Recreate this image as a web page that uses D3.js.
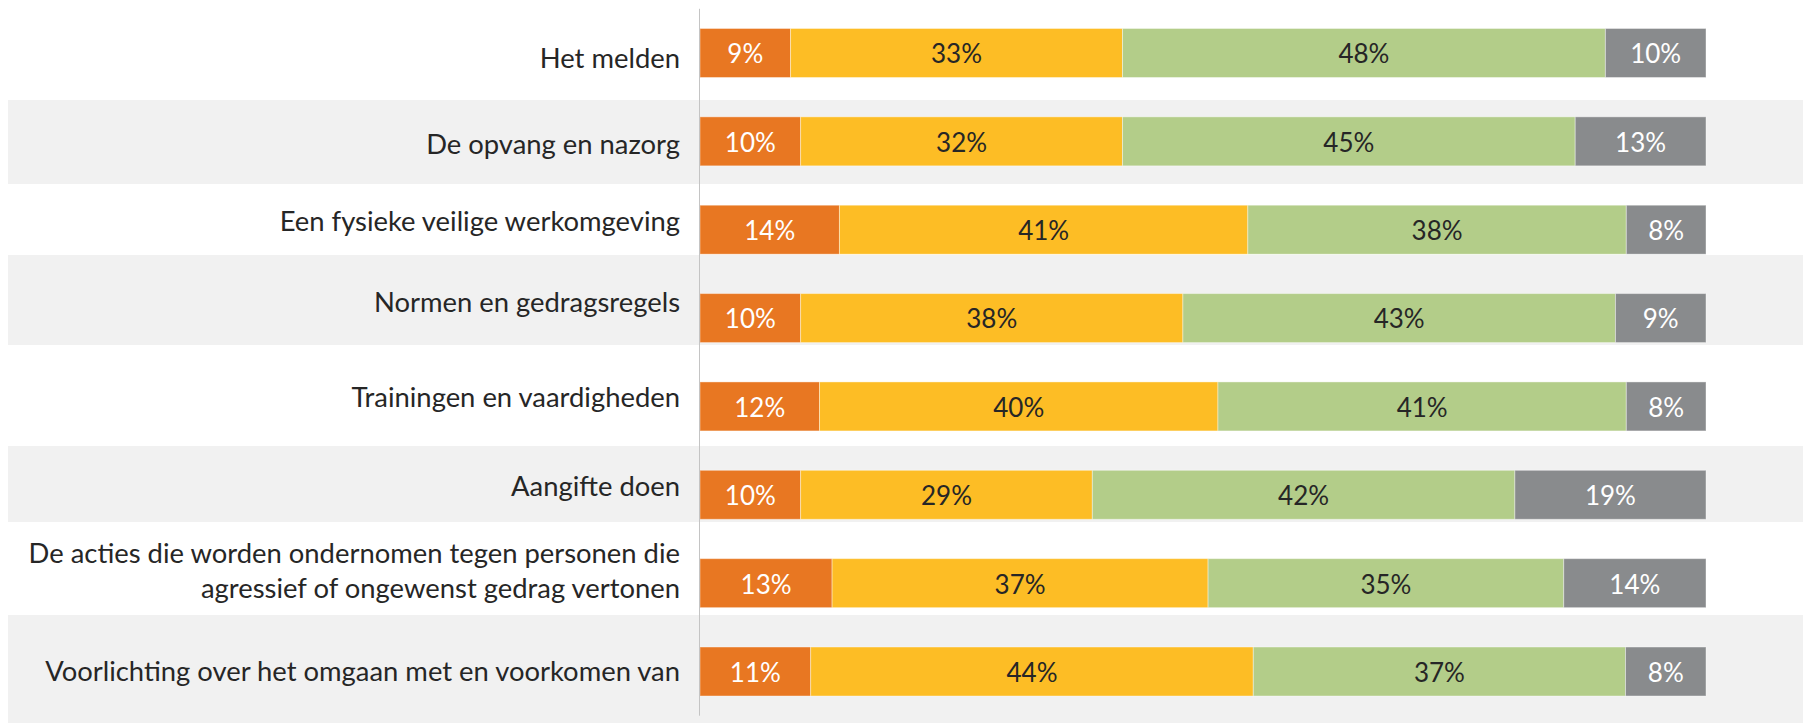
<!DOCTYPE html>
<html>
<head>
<meta charset="utf-8">
<script src="https://cdn.jsdelivr.net/npm/d3@7"></script>
<style>
  html, body { margin: 0; padding: 0; background: #fff; }
  svg { display: block; }
</style>
</head>
<body>
<div class="chart"></div>
<script>
// categorieën (van boven naar beneden), "\n" = regelafbreking
const categories = [
  "Het melden",
  "De opvang en nazorg",
  "Een fysieke veilige werkomgeving",
  "Normen en gedragsregels",
  "Trainingen en vaardigheden",
  "Aangifte doen",
  "De acties die worden ondernomen tegen personen die\nagressief of ongewenst gedrag vertonen",
  "Voorlichting over het omgaan met en voorkomen van"
]

// waarden per reeks (percentages)
const orangeValues = [9, 10, 14, 10, 12, 10, 13, 11]
const yellowValues = [33, 32, 41, 38, 40, 29, 37, 44]
const greenValues  = [48, 45, 38, 43, 41, 42, 35, 37]
const greyValues   = [10, 13, 8, 9, 8, 19, 14, 8]

const seriesKeys = ["orange", "yellow", "green", "grey"]

// layout
const width = 1803
const height = 723
const axisX = 700
const barsRight = 1706
const plotTop = 8.8
const plotBottom = 715.7

// achterliggende tabelrijen (grenzen in px), om en om grijs
const tableRows = [12, 100, 184, 255, 345, 446, 522, 615, 723]

const colors = {
  orange: "#E87722",
  yellow: "#FDBD25",
  green: "#B3CD89",
  grey: "#898B8D"
}
const textColors = {
  orange: "#ffffff",
  yellow: "#262626",
  green: "#262626",
  grey: "#ffffff"
}

const table = categories.map(function (c, i) {
  return {
    category: c,
    orange: orangeValues[i],
    yellow: yellowValues[i],
    green: greenValues[i],
    grey: greyValues[i]
  }
})

const svg = d3.select(".chart").append("svg")
  .attr("width", width)
  .attr("height", height)

// tabelrijen op de achtergrond
const rowBands = d3.pairs(tableRows)
svg.append("g")
  .selectAll("rect")
  .data(rowBands)
  .enter()
  .append("rect")
  .attr("x", 8)
  .attr("y", function (d) { return d[0] })
  .attr("width", width - 8)
  .attr("height", function (d) { return d[1] - d[0] })
  .attr("fill", function (d, i) { return i % 2 === 1 ? "#F1F1F1" : "#ffffff" })

const y = d3.scaleBand()
  .domain(categories)
  .range([plotTop, plotBottom])
  .paddingInner(0.4455)
  .paddingOuter(0.2228)

const x = d3.scaleLinear()
  .domain([0, 1])
  .range([axisX, barsRight])

const stack = d3.stack()
  .keys(seriesKeys)
  .offset(d3.stackOffsetExpand)

const series = stack(table)

// gestapelde balken
const layer = svg.append("g")
  .selectAll("g")
  .data(series)
  .enter()
  .append("g")
  .attr("fill", function (d) { return colors[d.key] })

layer.selectAll("rect")
  .data(function (d) { return d })
  .enter()
  .append("rect")
  .attr("x", function (d) { return x(d[0]) })
  .attr("y", function (d) { return y(d.data.category) })
  .attr("width", function (d) { return x(d[1]) - x(d[0]) })
  .attr("height", y.bandwidth())
  .attr("stroke", "#ffffff")
  .attr("stroke-opacity", 0.4)
  .attr("stroke-width", 1)

// percentages in de balken
layer.selectAll("text")
  .data(function (d) {
    return d.map(function (p) { return { key: d.key, p: p } })
  })
  .enter()
  .append("text")
  .attr("x", function (d) { return (x(d.p[0]) + x(d.p[1])) / 2 })
  .attr("y", function (d) { return y(d.p.data.category) + y.bandwidth() / 2 })
  .attr("dy", "0.4em")
  .attr("text-anchor", "middle")
  .attr("font-family", "Lato, 'Open Sans', sans-serif")
  .attr("font-size", "26px")
  .attr("fill", function (d) { return textColors[d.key] })
  .text(function (d) { return d.p.data[d.key] + "%" })

// verticale categorie-as
svg.append("line")
  .attr("x1", axisX - 0.5)
  .attr("x2", axisX - 0.5)
  .attr("y1", plotTop)
  .attr("y2", plotBottom)
  .attr("stroke", "#C4C4C4")
  .attr("stroke-width", 1)

// categorielabels, verticaal gecentreerd in de tabelrij
const lineGap = 35
svg.append("g")
  .selectAll("text")
  .data(categories)
  .enter()
  .append("text")
  .attr("text-anchor", "end")
  .attr("font-family", "Lato, 'Open Sans', sans-serif")
  .attr("font-size", "27.4px")
  .attr("fill", "#262626")
  .each(function (d, i) {
    const lines = d.split("\n")
    const mid = (rowBands[i][0] + rowBands[i][1]) / 2
    d3.select(this)
      .selectAll("tspan")
      .data(lines)
      .enter()
      .append("tspan")
      .attr("x", axisX - 20)
      .attr("y", function (l, j) { return mid + (j - (lines.length - 1) / 2) * lineGap })
      .attr("dy", "0.42em")
      .text(function (l) { return l })
  })
</script>
</body>
</html>
